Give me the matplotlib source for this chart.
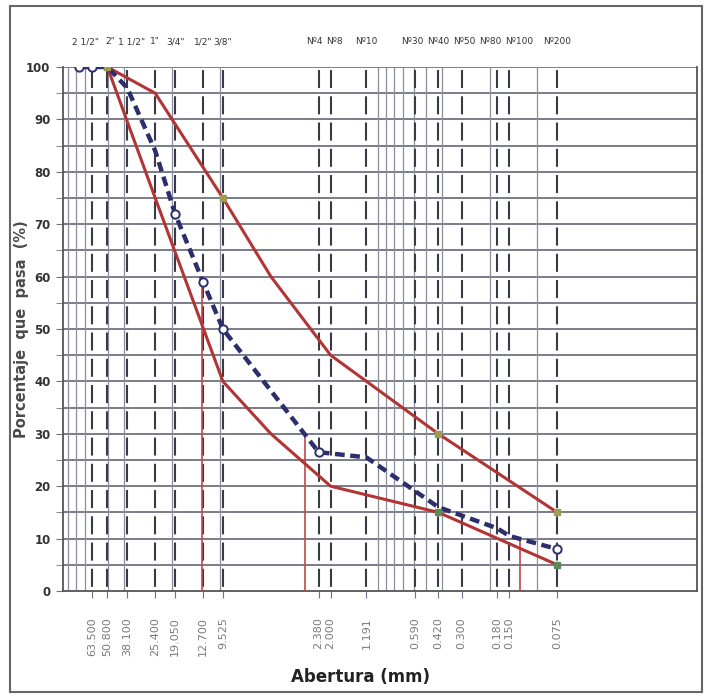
import numpy as np
import matplotlib.pyplot as plt
from matplotlib.patches import Rectangle
from matplotlib.ticker import FixedLocator, NullFormatter

plt.rcParams['lines.scale_dashes'] = False

# tamices
tamices = [63.5, 50.8, 38.1, 25.4, 19.05, 12.7, 9.525, 2.38, 2.0, 1.191,
           0.59, 0.42, 0.3, 0.18, 0.15, 0.075]
nombres = ['2 1/2"', '2"', '1 1/2"', '1"', '3/4"', '1/2"', '3/8"', 'Nº4', 'Nº8',
           'Nº10', 'Nº30', 'Nº40', 'Nº50', 'Nº80', 'Nº100', 'Nº200']
etiquetas = ['63.500', '50.800', '38.100', '25.400', '19.050', '12.700', '9.525',
             '2.380', '2.000', '1.191', '0.590', '0.420', '0.300', '0.180',
             '0.150', '0.075']

# curva de la muestra
muestra_x = [76.2, 63.5, 50.8, 38.1, 25.4, 19.05, 12.7, 9.525, 2.38, 1.191,
             0.42, 0.18, 0.15, 0.075]
muestra_y = [100, 100, 100, 96, 84, 72, 59, 50, 26.5, 25.5, 16, 12, 10.5, 8]

# limites del huso
lim_x = [50.8, 25.4, 9.525, 4.75, 2.0, 0.42, 0.075]
lim_sup = [100, 95, 75, 60, 45, 30, 15]
lim_inf = [100, 75, 40, 30, 20, 15, 5]

# D60, D30, D10
d_x = [12.9, 2.9, 0.129]
d_y = [60, 30, 10]

# lineas menores de la grilla log
menores = [90, 80, 70, 50, 40, 20, 10, 1.0, 0.9, 0.8, 0.7, 0.6, 0.5, 0.4, 0.2, 0.1]

fig = plt.figure(figsize=(7.1, 6.98), dpi=100)
ax = fig.add_axes([63/710, 1-591/698, 634/710, 524/698])
ax.set_xscale('log')
ax.set_xlim(96.6, 0.0099)
ax.set_ylim(0, 100)

gris = '#6f7280'
for y in range(5, 101, 5):
    ax.axhline(y, color=gris, lw=1.3, zorder=1)
for m in menores:
    ax.axvline(m, color='#8a8fa0', lw=0.9, zorder=1)
for t in tamices:
    ax.plot([t, t], [0, 100], color='#3a3a44', lw=1.5, zorder=2,
            linestyle=(15.9, (13, 5.9)))

for x, y in zip(d_x, d_y):
    ax.plot([x, x], [0, y], color='#c04848', lw=1.2, zorder=3)

ax.plot(lim_x, lim_sup, color='#b23434', lw=2.2, zorder=4)
ax.plot(lim_x, lim_inf, color='#b23434', lw=2.2, zorder=4)
ax.plot([lim_x[0], lim_x[2], lim_x[5], lim_x[6]],
        [lim_sup[0], lim_sup[2], lim_sup[5], lim_sup[6]],
        ls='none', marker='s', ms=4, color='#9c9c55', zorder=6)
ax.plot([lim_x[5], lim_x[6]], [lim_inf[5], lim_inf[6]],
        ls='none', marker='s', ms=4, color='#5a8a5a', zorder=6)

ax.plot(muestra_x, muestra_y, color='#2c2e6e', lw=3.2,
        linestyle=(0, (7, 4)), zorder=5)
ax.plot(muestra_x, muestra_y, ls='none', marker='o', ms=6, mfc='white',
        mec='#2c2e6e', mew=1.4, markevery=[0, 1, 5, 6, 7, 8, 13], zorder=6)

for s in ax.spines.values():
    s.set_color('#555555')
    s.set_linewidth(1.3)
ax.spines['top'].set_visible(False)

ax.set_yticks(range(0, 101, 10))
ax.yaxis.set_minor_locator(FixedLocator(range(5, 100, 10)))
ax.tick_params(axis='y', which='both', length=5, color=gris, pad=4)
for lab in ax.get_yticklabels():
    lab.set_fontweight('bold')
    lab.set_fontsize(8.5)
    lab.set_color('#333333')

ax.xaxis.set_minor_formatter(NullFormatter())
ax.xaxis.set_minor_locator(FixedLocator([]))
ax.set_xticks(tamices)
ax.set_xticklabels(etiquetas, rotation=90, fontsize=8, color='#7a7a7a')
ax.tick_params(axis='x', length=5, color=gris, pad=14)

ax.set_ylabel('Porcentaje  que  pasa  (%)', fontsize=10.5, fontweight='bold',
              color='#4a4a4a')
ax.yaxis.set_label_coords(-0.054, 0.5)
ax.set_xlabel('Abertura (mm)', fontsize=12, fontweight='bold', color='#222222')
ax.xaxis.set_label_coords(0.47, -0.147)

desp = {'Nº4': -3, 'Nº8': 3, 'Nº80': -5, 'Nº100': 7, '2 1/2"': -5,
        '2"': 2, '1 1/2"': 3, 'Nº30': -2, 'Nº50': 2}
for t, n in zip(tamices, nombres):
    ax.annotate(n, (t, 1.048), xycoords=ax.get_xaxis_transform(),
                xytext=(desp.get(n, 0), 0), textcoords='offset points',
                ha='center', va='center', fontsize=6.5, color='#333333')

fig.patches.append(Rectangle((10/710, 6/698), 692/710, 686/698,
                             transform=fig.transFigure, fill=False,
                             ec='#666666', lw=1.5))

fig.savefig('out.png', dpi=100, facecolor='white')
